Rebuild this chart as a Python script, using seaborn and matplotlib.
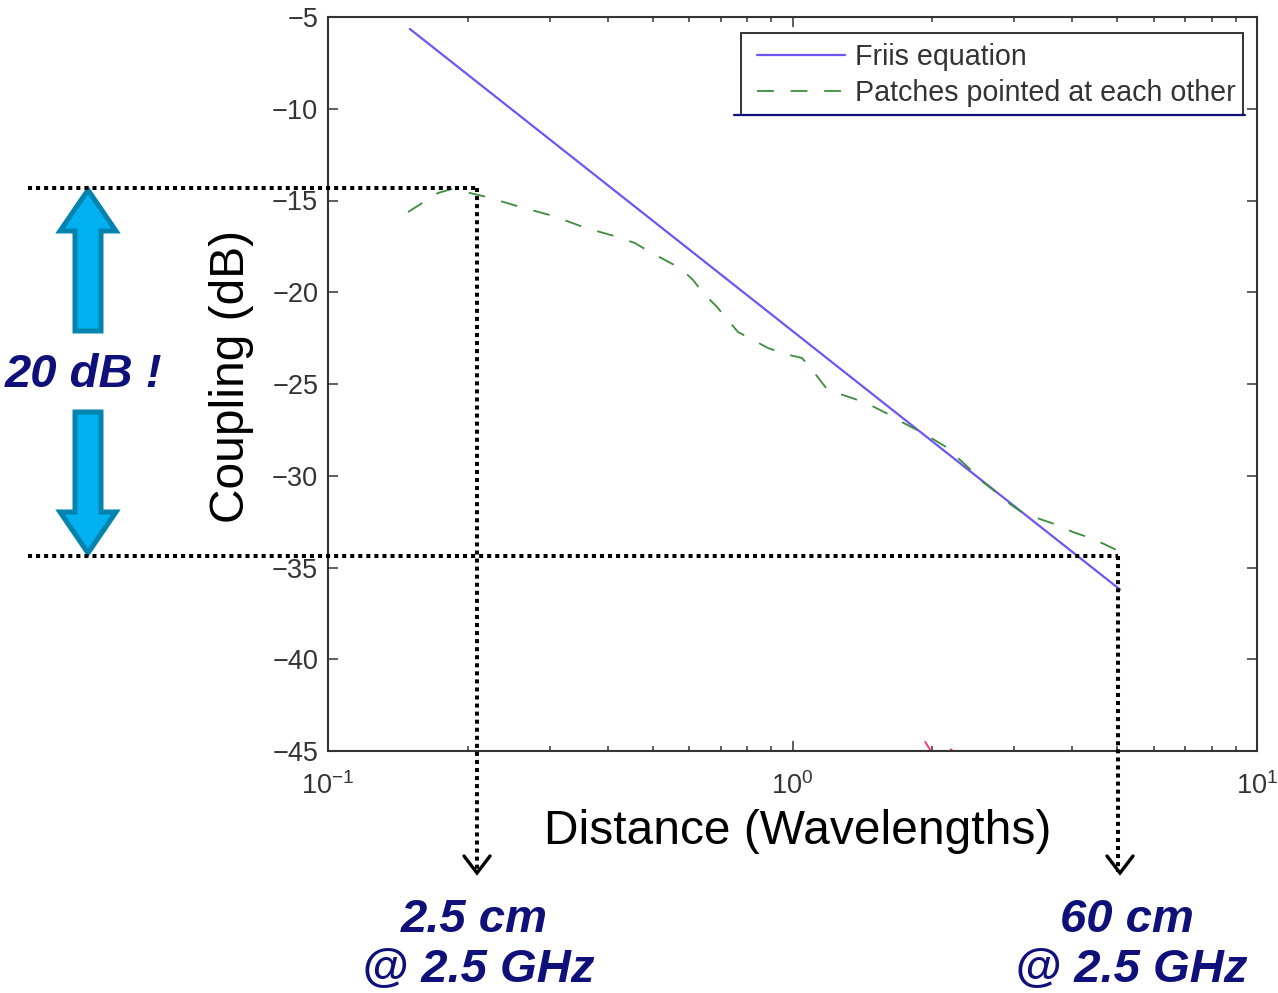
import matplotlib
matplotlib.use("Agg")
import matplotlib.pyplot as plt
from matplotlib.patches import Polygon
from matplotlib.ticker import NullFormatter
import pandas as pd
import seaborn as sns

# values
friis_x = [0.15, 5.07]
friis_y = [-5.65, -36.2]

patch_x = [0.1487, 0.1725, 0.1849, 0.2021, 0.2199, 0.2591, 0.3051, 0.3592, 0.4210, 0.4580, 0.4935,
           0.5726, 0.6108, 0.6417, 0.6879, 0.7228, 0.7633, 0.8222, 0.8857, 0.9636, 1.048, 1.107,
           1.163, 1.192, 1.247, 1.363, 1.468, 1.590, 1.704, 1.854, 1.987, 2.141, 2.271, 2.434,
           2.571, 2.757, 2.939, 3.134, 3.411, 3.710, 4.018, 4.371, 4.684, 5.096]
patch_y = [-15.63, -14.59, -14.37, -14.59, -14.81, -15.35, -15.84, -16.50, -16.99, -17.32, -17.81,
           -18.68, -19.33, -20.04, -20.80, -21.46, -22.17, -22.60, -23.04, -23.37, -23.58, -24.29,
           -25.0, -25.33, -25.49, -25.82, -26.14, -26.58, -27.02, -27.51, -27.94, -28.43, -29.03,
           -29.74, -30.34, -30.94, -31.54, -32.03, -32.36, -32.68, -33.07, -33.39, -33.72, -34.16]

red_x = [1.93, 1.98]
red_y = [-44.5, -44.95]
red2_x = [2.19, 2.21]
red2_y = [-44.9, -44.98]

y_ticks = [-5, -10, -15, -20, -25, -30, -35, -40, -45]
x_ticks = [0.1, 1, 10]
series_names = ["Friis equation", "Patches pointed at each other"]

NAVY = "#10107A"
DARK = "#333333"

sns.set_style("ticks")
plt.rcParams["font.family"] = ["Liberation Sans", "DejaVu Sans"]
plt.rcParams["mathtext.fontset"] = "custom"
plt.rcParams["mathtext.rm"] = "Liberation Sans"
plt.rcParams["mathtext.default"] = "regular"

W, H = 1278, 993
fig = plt.figure(figsize=(W / 100, H / 100), dpi=100)
ax = fig.add_axes([328 / W, 1 - 751 / H, 929 / W, 734 / H])

df_friis = pd.DataFrame({"x": friis_x, "y": friis_y})
df_patch = pd.DataFrame({"x": patch_x, "y": patch_y})

sns.lineplot(data=df_friis, x="x", y="y", ax=ax, color="#6E55F5", lw=1.6, label=series_names[0])
sns.lineplot(data=df_patch, x="x", y="y", ax=ax, color="#3C8C3C", lw=1.3, label=series_names[1],
             linestyle=(0, (9.3, 9.3)), sort=False)
sns.lineplot(x=red_x, y=red_y, ax=ax, color="#FF3355", lw=1.3, legend=False)
sns.lineplot(x=red2_x, y=red2_y, ax=ax, color="#FF3355", lw=1.3, legend=False)

ax.set_xscale("log")
ax.set_xlim(0.1, 10)
ax.set_ylim(-45, -5)
ax.set_xticks(x_ticks)
ax.set_yticks(y_ticks)
ax.xaxis.set_minor_formatter(NullFormatter())
ax.tick_params(which="both", direction="in", top=True, right=True, width=1.1, color=DARK)
ax.tick_params(which="major", length=7)
ax.tick_params(which="minor", length=3.6)
ax.tick_params(axis="y", which="major", labelsize=19.5, labelcolor=DARK, pad=7)
ax.tick_params(axis="x", which="major", labelsize=19.5, labelcolor=DARK, pad=15.6)
for sp in ax.spines.values():
    sp.set_visible(True)
    sp.set_linewidth(1.5)
    sp.set_color(DARK)

ax.set_xlabel("Distance (Wavelengths)", fontsize=34.5, color="black")
ax.set_ylabel("Coupling (dB)", fontsize=34.5, color="black")
ax.xaxis.set_label_coords(0.506, -0.0796)
ax.yaxis.set_label_coords(-0.080, 0.51)

leg = ax.legend(loc="upper left", bbox_to_anchor=(0.4618, 0.9646), borderaxespad=0, fontsize=20.6,
                frameon=False, handlelength=3.08, handletextpad=0.35, labelspacing=0.29, borderpad=0)
for t in leg.get_texts():
    t.set_color(DARK)

# slide annotations on top, in picture pixels
over = fig.add_axes([0, 0, 1, 1], zorder=10)
over.set_xlim(0, W)
over.set_ylim(H, 0)
over.axis("off")

# legend frame is open at the bottom, the navy rule closes it
over.plot([741, 741, 1243, 1243], [115, 33, 33, 115], color=DARK, lw=1.4, solid_joinstyle="miter")
over.plot([734, 1245], [115, 115], color=NAVY, lw=1.6)

dot = dict(color="black", lw=2.9, linestyle=(0, (1, 1)), solid_capstyle="butt")
over.plot([28, 477], [188, 188], **dot)
over.plot([477, 477], [188, 872], **dot)
over.plot([28, 1118], [556, 556], **dot)
over.plot([1118, 1118], [556, 872], **dot)

for cx in [477, 1120]:
    over.plot([cx - 13, cx, cx + 13], [856, 873, 856], color="black", lw=2.4, solid_joinstyle="miter")

arrow = dict(facecolor="#00B0F0", edgecolor="#0083AD", lw=3.6, joinstyle="miter")
over.add_patch(Polygon([(88, 190), (60, 231), (75, 231), (75, 331), (101, 331), (101, 231), (116, 231)], **arrow))
over.add_patch(Polygon([(88, 553), (60, 512), (75, 512), (75, 412), (101, 412), (101, 512), (116, 512)], **arrow))

note = dict(color=NAVY, fontsize=34, fontweight="bold", fontstyle="italic", ha="center", va="center")
over.text(83, 375, "20 dB !", **note)
over.text(474, 920, "2.5 cm", **note)
over.text(478, 970, "@ 2.5 GHz", **note)
over.text(1127, 920, "60 cm", **note)
over.text(1131, 970, "@ 2.5 GHz", **note)

fig.savefig("out.png", dpi=100)
plt.close()
